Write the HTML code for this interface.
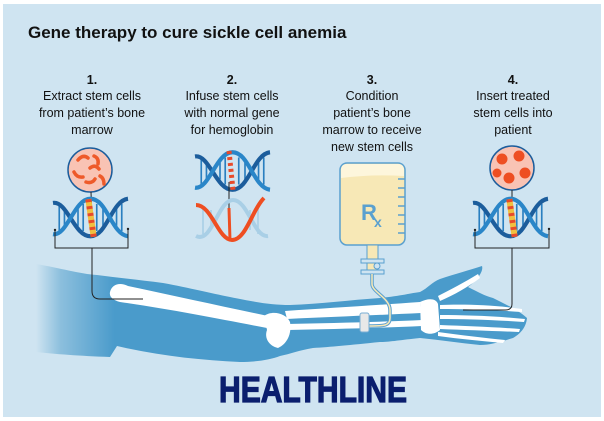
<!DOCTYPE html>
<html><head><meta charset="utf-8"><style>
html,body{margin:0;padding:0;background:#fff;}
svg{display:block}
</style></head><body>
<svg width="604" height="421" viewBox="0 0 604 421" xmlns="http://www.w3.org/2000/svg">
<defs>
<linearGradient id="fade" x1="0" x2="1" y1="0" y2="0">
<stop offset="0" stop-color="#cfe4f1"/><stop offset="0.05" stop-color="#8cbfdd"/><stop offset="0.16" stop-color="#4a9bcb"/><stop offset="1" stop-color="#4a9bcb"/>
</linearGradient>
<symbol id="dna" viewBox="0 0 72 44" overflow="visible">
<g stroke="#2a7fc0" stroke-width="1.6">
<line x1="6" y1="9" x2="6" y2="35"/><line x1="11" y1="14" x2="11" y2="30"/><line x1="24" y1="14" x2="24" y2="30"/><line x1="29" y1="9" x2="29" y2="35"/>
<line x1="42" y1="9" x2="42" y2="35"/><line x1="48" y1="14" x2="48" y2="30"/><line x1="61" y1="14" x2="61" y2="30"/><line x1="66" y1="9" x2="66" y2="35"/>
</g>
<path d="M0,8 C14,6 20,40 36,40 S56,6 72,4" fill="none" stroke="#1c5d9c" stroke-width="4"/>
<path d="M0,38 C14,40 20,4 36,4 S56,38 72,40" fill="none" stroke="#2a86c8" stroke-width="4"/>
</symbol>
</defs>
<rect x="0" y="0" width="604" height="421" fill="#fff"/>
<rect x="3" y="4" width="598" height="413" fill="#cfe4f1"/>
<text x="28" y="38" font-family="Liberation Sans, sans-serif" font-size="17" font-weight="bold" fill="#111">Gene therapy to cure sickle cell anemia</text>
<g font-family="Liberation Sans, sans-serif" font-size="12.5" fill="#111" text-anchor="middle">
<text x="92" y="84" font-weight="bold">1.</text>
<text x="92" y="100">Extract stem cells</text><text x="92" y="117">from patient’s bone</text><text x="92" y="134">marrow</text>
<text x="232" y="84" font-weight="bold">2.</text>
<text x="232" y="100">Infuse stem cells</text><text x="232" y="117">with normal gene</text><text x="232" y="134">for hemoglobin</text>
<text x="372" y="84" font-weight="bold">3.</text>
<text x="372" y="100">Condition</text><text x="372" y="117">patient’s bone</text><text x="372" y="134">marrow to receive</text><text x="372" y="151">new stem cells</text>
<text x="513" y="84" font-weight="bold">4.</text>
<text x="513" y="100">Insert treated</text><text x="513" y="117">stem cells into</text><text x="513" y="134">patient</text>
</g>
<!-- arm -->
<path d="M36,264 C60,268 80,274 97,275 C120,278 140,280 163,283 C190,288 210,293 230,297 C255,302 270,305 290,305 C320,304 350,300 380,298 C400,296 412,293 420,292 C428,288 432,282 440,279 C455,274 470,270 482,266 C484,272 475,282 468,287 C478,292 485,296 493,298 C505,304 518,310 527,318 C526,328 520,334 513,338 C500,342 490,345 480,345 C460,343 440,340 420,338 C400,340 390,342 380,342 C350,345 330,347 313,348 C300,350 290,354 280,356 C270,360 255,362 240,362 C200,360 160,356 117,346 L110,357 C80,356 55,354 36,352 Z" fill="url(#fade)"/>
<!-- bones -->
<g fill="#fff">
<path d="M110,292 C112,284 120,282 128,286 C175,296 225,307 268,316 L267,328 C225,320 170,309 120,302 C113,300 109,297 110,292 Z"/>
<path d="M264,316 C272,310 286,313 290,322 C292,334 287,344 278,348 C269,346 264,338 267,330 Z"/>
<path d="M285,311 C330,308 380,305 420,302 L421,313 C380,315 330,317 287,319 Z"/>
<path d="M287,324 C330,323 380,322 422,320 L422,326 C380,328 330,329 288,330 Z"/>
<path d="M420,302 C428,298 436,298 438,304 L440,330 C434,335 426,335 421,330 Z"/>
<path d="M438,296 C450,290 465,282 478,274 L480,278 C468,287 454,295 440,301 Z"/>
<path d="M440,305 C465,304 495,305 522,309 L522,312 C495,310 465,309 440,309 Z"/>
<path d="M440,315 C465,315 495,316 525,319 L524,322 C495,320 465,319 440,319 Z"/>
<path d="M440,325 C465,326 495,327 520,329 L519,332 C495,331 465,330 440,329 Z"/>
<path d="M438,332 C460,335 485,338 505,340 L503,343 C482,341 460,339 438,336 Z"/>
</g>
<!-- IV -->
<rect x="340" y="163" width="65" height="82" rx="7" fill="#f7e8b6" stroke="#5aa0cf" stroke-width="1.5"/>
<path d="M341,178 L341,170 Q341,164 347,164 L398,164 Q404,164 404,170 L404,176 Q372,174 341,178 Z" fill="#fdf6dc"/>
<g stroke="#5aa0cf" stroke-width="1.5"><line x1="398" y1="179" x2="405" y2="179"/><line x1="398" y1="188" x2="405" y2="188"/><line x1="398" y1="197" x2="405" y2="197"/><line x1="398" y1="206" x2="405" y2="206"/><line x1="398" y1="215" x2="405" y2="215"/><line x1="398" y1="224" x2="405" y2="224"/><line x1="398" y1="233" x2="405" y2="233"/></g>
<text x="361" y="220" font-family="Liberation Sans, sans-serif" font-size="22" font-weight="bold" fill="#5aa0cf">R</text>
<text x="374" y="227" font-family="Liberation Sans, sans-serif" font-size="14" font-weight="bold" fill="#5aa0cf">x</text>
<rect x="367" y="245" width="11" height="28" fill="#f7e8b6" stroke="#5aa0cf"/>
<rect x="361" y="259" width="23" height="4" fill="#cfe4f1" stroke="#5aa0cf"/>
<rect x="361" y="270" width="23" height="4" fill="#cfe4f1" stroke="#5aa0cf"/>
<circle cx="377" cy="266" r="3" fill="#cfe4f1" stroke="#5aa0cf"/>
<path d="M372,274 L372,284 C372,292 390,298 390,310 L390,318 C390,326 384,326 368,326" fill="none" stroke="#5aa0cf" stroke-width="3.5"/>
<path d="M372,274 L372,284 C372,292 390,298 390,310 L390,318 C390,326 384,326 368,326" fill="none" stroke="#f7e8b6" stroke-width="1.5"/>
<rect x="360" y="313" width="9" height="19" rx="2" fill="#e8e8e8" stroke="#7aaed3"/>
<!-- step 1 -->
<circle cx="90" cy="170" r="22" fill="#f9c3b4" stroke="#1c5d9c" stroke-width="1.5"/>
<g fill="none" stroke="#ee5a2a" stroke-width="3.5" stroke-linecap="round">
<path d="M78,160 q5,-6 10,-2"/><path d="M94,156 q5,2 4,8"/><path d="M74,172 q3,6 9,5"/><path d="M90,168 q5,-4 9,1"/><path d="M86,182 q6,2 9,-3"/><path d="M100,176 q4,2 4,8"/>
</g>
<line x1="91" y1="192" x2="92" y2="220" stroke="#222" stroke-width="1"/>
<use href="#dna" x="53" y="194" width="75" height="47"/>
<rect x="88" y="199" width="6" height="38" fill="#f0c040" transform="rotate(-8 91 218)"/>
<g stroke="#e84a2a" stroke-width="6" stroke-dasharray="3 4"><line x1="91" y1="199" x2="91" y2="237" transform="rotate(-8 91 218)"/></g>
<path d="M55,231 V248 H128 V230" fill="none" stroke="#222" stroke-width="1"/>
<circle cx="55" cy="230" r="1.2" fill="#222"/><circle cx="128" cy="229" r="1.2" fill="#222"/>
<path d="M92,248 V291 Q92,299 100,299 H143" fill="none" stroke="#222" stroke-width="1"/>
<!-- step 2 -->
<use href="#dna" x="195" y="148" width="75" height="46"/>
<g stroke="#e84a2a" stroke-width="5" stroke-dasharray="3 3"><line x1="229" y1="151" x2="233" y2="190"/></g>
<line x1="229" y1="182" x2="229" y2="210" stroke="#222"/>
<g stroke="#a9cfe6" stroke-width="1.6"><line x1="203" y1="206" x2="203" y2="234"/><line x1="211" y1="210" x2="211" y2="230"/><line x1="250" y1="210" x2="250" y2="230"/><line x1="258" y1="206" x2="258" y2="234"/></g>
<path d="M196,236 C212,244 218,200 233,200 S254,238 268,236" fill="none" stroke="#a9cfe6" stroke-width="4"/>
<path d="M196,205 C212,205 218,240 232,240 S252,210 264,198" fill="none" stroke="#ee4e22" stroke-width="4"/>
<line x1="229" y1="208" x2="230" y2="240" stroke="#ee4e22" stroke-width="3"/>
<!-- step 4 -->
<circle cx="512" cy="168" r="22" fill="#f9c3b4" stroke="#1c5d9c" stroke-width="1.5"/>
<g fill="#ee4e22" stroke="#f9c3b4" stroke-width="1">
<circle cx="502" cy="159" r="6"/><circle cx="519" cy="156" r="6"/><circle cx="525" cy="173" r="6"/><circle cx="509" cy="178" r="6"/><circle cx="497" cy="173" r="5"/>
</g>
<line x1="512" y1="190" x2="512" y2="212" stroke="#222"/>
<use href="#dna" x="473" y="194" width="75" height="47"/>
<rect x="509" y="199" width="6" height="38" fill="#f0c040" transform="rotate(-8 512 218)"/>
<g stroke="#e84a2a" stroke-width="6" stroke-dasharray="3 4"><line x1="512" y1="199" x2="512" y2="237" transform="rotate(-8 512 218)"/></g>
<path d="M475,231 V248 H549 V230" fill="none" stroke="#222"/>
<circle cx="475" cy="230" r="1.2" fill="#222"/><circle cx="549" cy="229" r="1.2" fill="#222"/>
<path d="M512,248 V304 Q512,310 505,310 H463" fill="none" stroke="#222"/>
<text x="313" y="402" text-anchor="middle" font-family="Liberation Sans Narrow, Liberation Sans, sans-serif" font-size="36" font-weight="bold" fill="#0b1f6e" stroke="#0b1f6e" stroke-width="1.2" textLength="188" lengthAdjust="spacingAndGlyphs">HEALTHLINE</text>
</svg>
</body></html>
